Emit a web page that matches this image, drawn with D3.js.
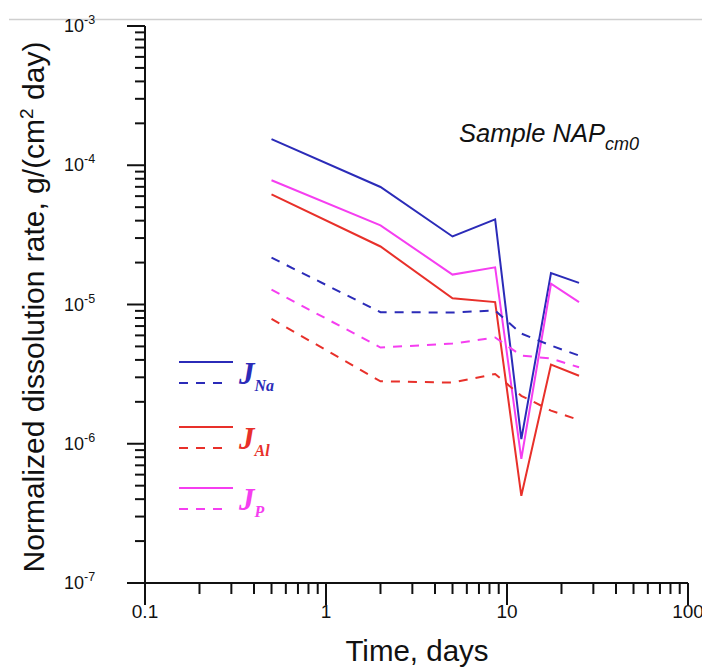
<!DOCTYPE html>
<html><head><meta charset="utf-8">
<script src="https://cdn.jsdelivr.net/npm/d3@7"></script>
<style>body{margin:0;background:#fff}svg{display:block}</style>
</head><body>
<script>
const days = [0.5, 2, 5, 8.6, 12, 17.5, 25];
const naSolid = [1.54e-4, 6.98e-5, 3.08e-5, 4.09e-5, 1.08e-6, 1.68e-5, 1.43e-5];
const pSolid  = [7.8e-5, 3.7e-5, 1.64e-5, 1.85e-5, 7.8e-7, 1.41e-5, 1.04e-5];
const alSolid = [6.18e-5, 2.61e-5, 1.11e-5, 1.04e-5, 4.23e-7, 3.7e-6, 3.08e-6];
const naDash  = [2.17e-5, 8.81e-6, 8.76e-6, 9.06e-6, 6.18e-6, 5.07e-6, 4.3e-6];
const pDash   = [1.28e-5, 4.91e-6, 5.24e-6, 5.79e-6, 4.3e-6, 4.09e-6, 3.54e-6];
const alDash  = [7.88e-6, 2.81e-6, 2.75e-6, 3.17e-6, 2.21e-6, 1.73e-6, 1.48e-6];
const xTicks = [0.1, 1, 10, 100];
const xTickLabels = ["0.1", "1", "10", "100"];
const yExponents = [-3, -4, -5, -6, -7];
const legendLabels = [["J","Na"],["J","Al"],["J","P"]];

const W = 702, H = 667;
const colors = {na:"#2b2bb8", al:"#e8302a", p:"#f53ef0"};
const svg = d3.select("body").append("svg").attr("width", W).attr("height", H);

// top gray rule
svg.append("line").attr("x1", 9).attr("x2", W).attr("y1", 19.5).attr("y2", 19.5)
  .attr("stroke", "#cfcfcf").attr("stroke-width", 1.5);

const x = d3.scaleLog().domain([0.1, 100]).range([145, 688]);
const y = d3.scaleLog().domain([1e-7, 1e-3]).range([583, 26]);

// minor ticks
const minorX = [], minorY = [];
for (let e = -1; e < 2; e++) for (let m = 2; m <= 9; m++) minorX.push(m * Math.pow(10, e));
for (let e = -7; e < -3; e++) for (let m = 2; m <= 9; m++) minorY.push(m * Math.pow(10, e));

const axisColor = "#111";
// x axis
const gx = svg.append("g");
gx.append("line").attr("x1", 127).attr("x2", x(100)).attr("y1", y(1e-7)).attr("y2", y(1e-7))
  .attr("stroke", axisColor).attr("stroke-width", 2);
gx.selectAll("line.minor").data(minorX).join("line").attr("class","minor")
  .attr("x1", d => x(d)).attr("x2", d => x(d)).attr("y1", y(1e-7)).attr("y2", y(1e-7) + 11)
  .attr("stroke", axisColor).attr("stroke-width", 2);
gx.selectAll("line.major").data(xTicks).join("line").attr("class","major")
  .attr("x1", d => x(d)).attr("x2", d => x(d)).attr("y1", y(1e-7)).attr("y2", y(1e-7) + 22)
  .attr("stroke", axisColor).attr("stroke-width", 2);
gx.selectAll("text").data(xTicks).join("text")
  .attr("x", d => x(d)).attr("y", 618).attr("text-anchor", "middle")
  .attr("font-family", "Liberation Sans, Arial, sans-serif").attr("font-size", 19).attr("fill", "#111")
  .text((d, i) => xTickLabels[i]);
svg.append("text").attr("x", 417).attr("y", 661).attr("text-anchor", "middle")
  .attr("font-family", "Liberation Sans, Arial, sans-serif").attr("font-size", 29.5).attr("fill", "#111")
  .text("Time, days");

// y axis
const gy = svg.append("g");
gy.append("line").attr("x1", x(0.1)).attr("x2", x(0.1)).attr("y1", y(1e-3)).attr("y2", y(1e-7))
  .attr("stroke", axisColor).attr("stroke-width", 2);
gy.selectAll("line.minor").data(minorY).join("line").attr("class","minor")
  .attr("x1", x(0.1) - 10).attr("x2", x(0.1)).attr("y1", d => y(d)).attr("y2", d => y(d))
  .attr("stroke", axisColor).attr("stroke-width", 2);
gy.selectAll("line.major").data(yExponents).join("line").attr("class","major")
  .attr("x1", x(0.1) - 18).attr("x2", x(0.1)).attr("y1", d => y(Math.pow(10, d))).attr("y2", d => y(Math.pow(10, d)))
  .attr("stroke", axisColor).attr("stroke-width", 2);
const yl = gy.selectAll("text").data(yExponents).join("text")
  .attr("x", 64).attr("y", d => y(Math.pow(10, d)) + 6)
  .attr("font-family", "Liberation Sans, Arial, sans-serif").attr("font-size", 18).attr("fill", "#111");
yl.append("tspan").text("10");
yl.append("tspan").attr("dy", -8).attr("font-size", 12.5).text(d => String(d));

// y title
const yt = svg.append("text").attr("transform", "translate(44,307) rotate(-90)").attr("text-anchor", "middle")
  .attr("font-family", "Liberation Sans, Arial, sans-serif").attr("font-size", 30).attr("fill", "#111");
yt.append("tspan").text("Normalized dissolution rate, g/(cm");
yt.append("tspan").attr("dy", -11).attr("font-size", 19).text("2");
yt.append("tspan").attr("dy", 11).text(" day)");

// data lines
const line = d3.line().x(d => x(d[0])).y(d => y(d[1]));
const series = [
  {v: naSolid, c: colors.na, dash: null},
  {v: pSolid, c: colors.p, dash: null},
  {v: alSolid, c: colors.al, dash: null},
  {v: naDash, c: colors.na, dash: "9,8"},
  {v: pDash, c: colors.p, dash: "9,8"},
  {v: alDash, c: colors.al, dash: "9,8"}
];
svg.append("g").selectAll("path").data(series).join("path")
  .attr("d", s => line(days.map((d, i) => [d, s.v[i]])))
  .attr("fill", "none").attr("stroke", s => s.c).attr("stroke-width", 2)
  .attr("stroke-dasharray", s => s.dash);

// sample label
const st = svg.append("text").attr("x", 459).attr("y", 142)
  .attr("font-family", "Liberation Sans, Arial, sans-serif").attr("font-style", "italic")
  .attr("font-size", 25.5).attr("fill", "#111");
st.append("tspan").text("Sample NAP");
st.append("tspan").attr("dy", 8).attr("font-size", 18).text("cm0");

// legend
const legColors = [colors.na, colors.al, colors.p];
const legY = [362, 427, 488];
const lg = svg.append("g");
legColors.forEach((c, i) => {
  lg.append("line").attr("x1", 179).attr("x2", 233).attr("y1", legY[i]).attr("y2", legY[i])
    .attr("stroke", c).attr("stroke-width", 2);
  lg.append("line").attr("x1", 179).attr("x2", 230).attr("y1", legY[i] + 21).attr("y2", legY[i] + 21)
    .attr("stroke", c).attr("stroke-width", 2).attr("stroke-dasharray", "9,8");
  const t = lg.append("text").attr("x", 239).attr("y", legY[i] + 22)
    .attr("font-family", "Liberation Serif, Times New Roman, serif").attr("font-style", "italic")
    .attr("font-weight", "bold").attr("font-size", 31).attr("fill", c);
  t.append("tspan").text(legendLabels[i][0]);
  t.append("tspan").attr("dy", 7).attr("font-size", 16).text(legendLabels[i][1]);
});
</script>
</body></html>
